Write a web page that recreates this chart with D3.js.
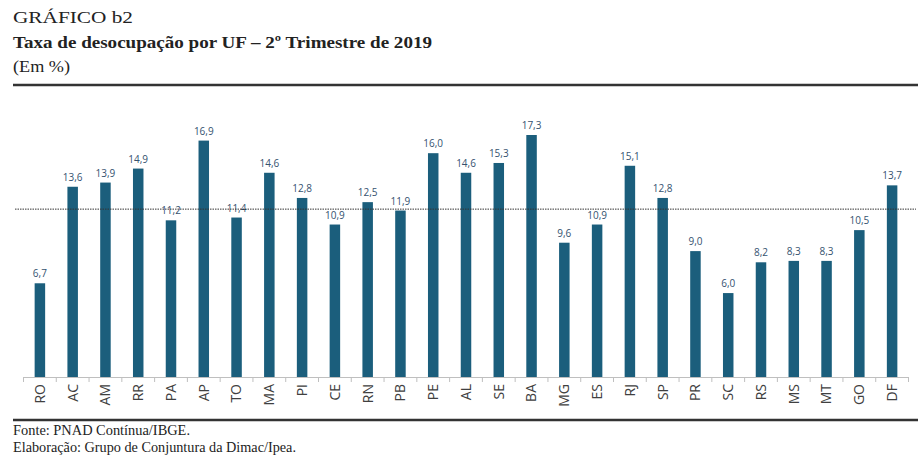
<!DOCTYPE html>
<html>
<head>
<meta charset="utf-8">
<script src="https://cdn.jsdelivr.net/npm/d3@7"></script>
<style>
  body { margin: 0; background: #fff; }
  svg { display: block; }
</style>
</head>
<body>
<div id="chart"></div>
<script>
// UF codes and unemployment rate, Q2 2019
const ufs = ["RO","AC","AM","RR","PA","AP","TO","MA","PI","CE","RN","PB","PE","AL","SE","BA","MG","ES","RJ","SP","PR","SC","RS","MS","MT","GO","DF"];
const values = [6.7,13.6,13.9,14.9,11.2,16.9,11.4,14.6,12.8,10.9,12.5,11.9,16.0,14.6,15.3,17.3,9.6,10.9,15.1,12.8,9.0,6.0,8.2,8.3,8.3,10.5,13.7];
const brasil = 12.0;

const width = 920, height = 460;
const serif = "'Liberation Serif', 'DejaVu Serif', serif";
const sans = "'Open Sans', 'Noto Sans', sans-serif";

const svg = d3.select("#chart").append("svg")
  .attr("width", width)
  .attr("height", height);

// header / footer texts, widths matched to the original Garamond setting
function txt(xp, yp, s, size, len, bold) {
  svg.append("text").attr("x", xp).attr("y", yp)
    .attr("font-family", serif).attr("font-size", size)
    .attr("font-weight", bold ? "bold" : "normal")
    .attr("fill", "#222")
    .attr("textLength", len).attr("lengthAdjust", "spacingAndGlyphs")
    .text(s);
}
txt(13, 23, "GRÁFICO b2", 17, 120, false);
txt(13, 48, "Taxa de desocupação por UF – 2º Trimestre de 2019", 17, 419, true);
txt(13, 72, "(Em %)", 17, 57, false);
txt(13, 435, "Fonte: PNAD Contínua/IBGE.", 14, 177, false);
txt(13, 452, "Elaboração: Grupo de Conjuntura da Dimac/Ipea.", 14, 283, false);

svg.append("line").attr("x1", 13).attr("x2", 918).attr("y1", 85).attr("y2", 85)
  .attr("stroke", "#333").attr("stroke-width", 2.5);
svg.append("line").attr("x1", 13).attr("x2", 918).attr("y1", 420).attr("y2", 420)
  .attr("stroke", "#333").attr("stroke-width", 2.5);

// scales
const x = d3.scaleBand().domain(ufs).range([23.5, 908.5]);
const y = d3.scaleLinear().domain([0, 17.3]).range([377, 135]);
const barW = 10.5;

// bars
svg.append("g").selectAll("rect")
  .data(ufs)
  .join("rect")
  .attr("x", d => x(d) + x.bandwidth() / 2 - barW / 2)
  .attr("y", (d, i) => y(values[i]))
  .attr("width", barW)
  .attr("height", (d, i) => y(0) - y(values[i]))
  .attr("fill", "#1b5e7c");

// value labels
svg.append("g").selectAll("text")
  .data(ufs)
  .join("text")
  .attr("x", d => x(d) + x.bandwidth() / 2)
  .attr("y", (d, i) => y(values[i]) - 6)
  .attr("text-anchor", "middle")
  .attr("font-family", sans)
  .attr("font-size", 10)
  .attr("fill", "#35526f")
  .text((d, i) => values[i].toFixed(1).replace(".", ","));

// Brasil average line
svg.append("line")
  .attr("x1", 15).attr("x2", 916)
  .attr("y1", y(brasil)).attr("y2", y(brasil))
  .attr("stroke", "#333").attr("stroke-width", 1)
  .attr("stroke-dasharray", "1.5,1");

// x axis
const xAxis = svg.append("g")
  .attr("transform", "translate(0,377)")
  .call(d3.axisBottom(x).tickSize(0).tickPadding(0));
xAxis.select(".domain").attr("stroke", "#bfbfbf");
xAxis.selectAll(".tick text")
  .attr("transform", "rotate(-90)")
  .attr("x", -7)
  .attr("y", 0)
  .attr("dy", "0.35em")
  .attr("text-anchor", "end")
  .attr("font-family", sans)
  .attr("font-size", 14)
  .attr("fill", "#404040");

// tick marks between categories
const edges = ufs.map(d => x(d)).concat([x.range()[1]]);
xAxis.selectAll(".sep")
  .data(edges)
  .join("line")
  .attr("class", "sep")
  .attr("x1", d => d).attr("x2", d => d)
  .attr("y1", 0).attr("y2", 5)
  .attr("stroke", "#bfbfbf");
</script>
</body>
</html>
